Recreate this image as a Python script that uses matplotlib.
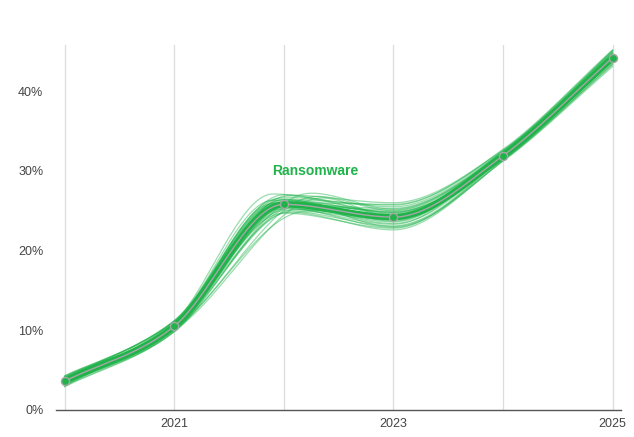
import numpy as np
import matplotlib
matplotlib.use("Agg")
import matplotlib.pyplot as plt

plt.rcParams["font.family"] = ["Liberation Sans", "DejaVu Sans"]

years = [2020, 2021, 2022, 2023, 2024, 2025]
share = [3.6, 10.5, 25.8, 24.2, 31.9, 44.2]
tick_years = [2021, 2023, 2025]
y_ticks = [0, 10, 20, 30, 40]
series_label = "Ransomware"

# spread of the faint estimate lines, offsets in % at each year
offsets = [
    [0.5, 0.6, 0.9, 1.3, 0.5, 0.7],
    [-0.4, -0.5, -0.8, -1.1, -0.5, -0.8],
    [0.2, 0.3, 0.4, 0.6, 0.2, 0.3],
    [-0.1, -0.2, -0.3, -0.4, -0.1, -0.2],
    [0.6, 0.7, 1.2, 1.8, 0.7, 0.4],
    [-0.6, -0.7, -1.0, -1.6, -0.6, -0.9],
    [0.1, 0.2, 0.5, 0.2, 0.1, 0.6],
    [0.0, -0.1, 0.3, -0.5, 0.0, -0.4],
    [0.3, 0.5, 1.4, 1.0, 0.4, 0.2],
    [-0.3, -0.4, 1.0, 0.8, 0.2, -0.3],
    [0.4, 0.1, -0.6, 0.3, 0.6, 0.9],
    [-0.5, -0.2, 0.2, -0.8, -0.3, -0.5],
    [0.2, 0.6, -0.2, 0.9, 0.3, 0.1],
    [-0.2, 0.4, 0.6, -0.2, -0.2, 0.5],
    [0.0, 0.0, 0.0, 0.0, 0.0, 0.0],
    [0.7, 0.3, 0.7, 1.5, 0.8, 1.0],
    [-0.7, -0.6, -0.4, -1.3, -0.7, -1.1],
    [0.1, -0.3, -0.9, -0.6, 0.1, 0.0],
    [-0.1, 0.2, 1.1, 0.5, -0.1, 0.2],
    [0.3, -0.4, 0.1, 1.1, 0.2, -0.6],
    [-0.4, 0.5, -0.5, -0.9, 0.4, 0.6],
    [0.5, -0.1, 0.5, 0.4, -0.4, -0.3],
    [-0.3, 0.1, -1.1, -1.4, -0.2, 0.4],
    [0.2, -0.5, 0.8, 0.0, 0.5, 0.8],
    [-0.6, 0.3, 0.3, 0.7, -0.5, -0.7],
    [0.4, 0.7, -0.3, -0.3, 0.3, -0.1],
    [-0.2, -0.7, 0.2, 1.6, 0.6, 0.3],
    [0.6, 0.0, 0.6, -1.2, -0.6, 0.1],
    [-0.5, 0.4, 1.3, 0.6, 0.0, 0.9],
    [0.0, -0.3, -0.7, 0.1, -0.3, -0.2],
]
# shift (in years) of the 2022 knot for each faint line
shifts = [0, 0, 0.05, -0.05, 0, 0.05, -0.1, 0.1, 0.25, 0.3,
          0, -0.05, 0.1, 0, 0.15, -0.05, 0, 0.2, 0.05, -0.1,
          0, 0.1, 0, 0.35, -0.05, 0, 0.05, 0, -0.1, 0.1]

green = "#1fb34a"
gray = "#a6a6a6"


def monotone_curve(xs, ys, n=40):
    # Steffen monotone cubic, ends kept close to straight
    xs = np.asarray(xs, float)
    ys = np.asarray(ys, float)
    h = np.diff(xs)
    s = np.diff(ys) / h
    m = np.zeros(len(xs))
    for i in range(1, len(xs) - 1):
        p = (s[i - 1] * h[i] + s[i] * h[i - 1]) / (h[i - 1] + h[i])
        m[i] = (np.sign(s[i - 1]) + np.sign(s[i])) * min(abs(s[i - 1]), abs(s[i]), 0.5 * abs(p))
    m[0] = s[0]
    m[-1] = s[-1]
    out_x, out_y = [], []
    for i in range(len(xs) - 1):
        t = np.linspace(0, 1, n)
        h00 = 2 * t**3 - 3 * t**2 + 1
        h10 = t**3 - 2 * t**2 + t
        h01 = -2 * t**3 + 3 * t**2
        h11 = t**3 - t**2
        out_x.extend(xs[i] + t * h[i])
        out_y.extend(h00 * ys[i] + h10 * h[i] * m[i] + h01 * ys[i + 1] + h11 * h[i] * m[i + 1])
    return np.array(out_x), np.array(out_y)


fig = plt.figure(figsize=(6.34, 4.37), dpi=100)
ax = fig.add_axes([0.088, 0.062, 0.892, 0.835])

for off, dx in zip(offsets, shifts):
    xs = list(years)
    xs[2] = xs[2] + dx
    ys = [v + o for v, o in zip(share, off)]
    cx, cy = monotone_curve(xs, ys)
    ax.plot(cx, cy, color=green, lw=0.9, alpha=0.45, zorder=2)

mx, my = monotone_curve(years, share)
ax.plot(mx, my, color=green, lw=4.5, zorder=3, solid_capstyle="round")
ax.plot(mx, my, color=gray, lw=1.0, zorder=4)
ax.scatter(years, share, s=34, color=green, edgecolor=gray, linewidth=1.0, zorder=5)

ax.text(2022.29, 30, series_label, color=green, fontsize=10, fontweight="bold",
        ha="center", va="center")

for yr in years:
    ax.axvline(yr, color="#dddddd", lw=0.9, zorder=1)

ax.set_xlim(2019.92, 2025.08)
ax.set_ylim(0, 45.8)
ax.set_xticks(tick_years)
ax.set_xticklabels([str(y) for y in tick_years])
ax.set_yticks(y_ticks)
ax.set_yticklabels([f"{v}%" for v in y_ticks])
ax.tick_params(length=0, labelsize=9, labelcolor="#444444")
ax.tick_params(axis="x", pad=6)
ax.tick_params(axis="y", pad=9)
for side in ["top", "right", "left"]:
    ax.spines[side].set_visible(False)
ax.spines["bottom"].set_color("#555555")
ax.spines["bottom"].set_linewidth(1)

fig.savefig("out.png", dpi=100)
